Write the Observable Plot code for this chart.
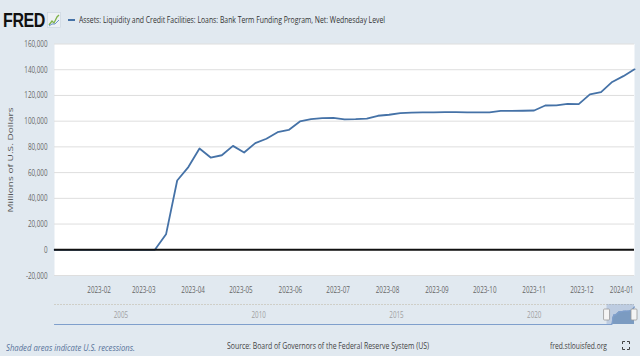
<!DOCTYPE html>
<html><head><meta charset="utf-8">
<script src="https://cdn.jsdelivr.net/npm/d3@7"></script>
<script src="https://cdn.jsdelivr.net/npm/@observablehq/plot@0.6"></script>
<style>
html,body{margin:0;padding:0;}
body{width:640px;height:356px;overflow:hidden;background:#e1e9f0;position:relative;font-family:"Open Sans",sans-serif;}
.abs{position:absolute;white-space:nowrap;line-height:1;}
#main{position:absolute;left:0;top:33px;}
#nav{position:absolute;left:0;top:302px;}
</style></head><body>
<script>
// ---- data ----
const dates = ["2023-01-04","2023-01-11","2023-01-18","2023-01-25","2023-02-01","2023-02-08","2023-02-15","2023-02-22",
"2023-03-01","2023-03-08","2023-03-15","2023-03-22","2023-03-29","2023-04-05","2023-04-12","2023-04-19","2023-04-26",
"2023-05-03","2023-05-10","2023-05-17","2023-05-24","2023-05-31","2023-06-07","2023-06-14","2023-06-21","2023-06-28",
"2023-07-05","2023-07-12","2023-07-19","2023-07-26","2023-08-02","2023-08-09","2023-08-16","2023-08-23","2023-08-30",
"2023-09-06","2023-09-13","2023-09-20","2023-09-27","2023-10-04","2023-10-11","2023-10-18","2023-10-25","2023-11-01",
"2023-11-08","2023-11-15","2023-11-22","2023-11-29","2023-12-06","2023-12-13","2023-12-20","2023-12-27","2024-01-03"];
const values = [0,0,0,0,0,0,0,0,0,0,
12000,53900,64300,78700,71700,73500,80800,75600,82900,86300,91400,93200,99800,101600,102300,102600,
101400,101600,102000,104200,105000,106300,106700,106800,106900,107000,107100,106800,106800,106900,
108000,108000,108100,108300,112200,112300,113500,113300,120800,122600,130500,135000,140300];
// navigator: full history of the series (flat at zero before 2023)
const navDates = ["2002-12-18"];
const navValues = [0];
const yTicks = [-20000,0,20000,40000,60000,80000,100000,120000,140000,160000];
const xTicks = ["2023-02-01","2023-03-01","2023-04-01","2023-05-01","2023-06-01","2023-07-01","2023-08-01",
"2023-09-01","2023-10-01","2023-11-01","2023-12-01","2024-01-01"];
const navYears = ["2005","2010","2015","2020"];
const title = "Assets: Liquidity and Credit Facilities: Loans: Bank Term Funding Program, Net: Wednesday Level";
const yLabel = "Millions of U.S. Dollars";
const note = "Shaded areas indicate U.S. recessions.";
const source = "Source: Board of Governors of the Federal Reserve System (US)";
const site = "fred.stlouisfed.org";

const BLUE = "#4572a7";
const data = dates.map((d, i) => ({date: new Date(d), value: values[i]}));
const navData = navDates.map((d, i) => ({date: new Date(d), value: navValues[i]})).concat(data);
const xT = xTicks.map(d => new Date(d));
const fmtY = d => d3.format(",")(d).replace("\u2212", "-");

const main = Plot.plot({
  width: 640, height: 262,
  marginTop: 10.5, marginBottom: 20, marginLeft: 54, marginRight: 6,
  x: {type: "utc", domain: [new Date(dates[0]), new Date(dates[dates.length - 1])]},
  y: {domain: [yTicks[0], yTicks[yTicks.length - 1]]},
  style: {background: "transparent", fontFamily: "Open Sans", fontSize: "9.5px", color: "#666", overflow: "visible"},
  marks: [
    Plot.frame({fill: "white", stroke: "none"}),
    Plot.gridY(yTicks, {stroke: "#dedede", strokeOpacity: 1, strokeWidth: 1}),
    Plot.lineY(data, {x: "date", y: "value", stroke: BLUE, strokeWidth: 1.8}),
    Plot.ruleY([0], {stroke: "#111", strokeWidth: 2}),
    Plot.axisY(yTicks, {tickSize: 0, tickPadding: 7, tickFormat: fmtY, label: null, fill: "#666"}),
    Plot.axisX(xT.slice(0, -1), {tickSize: 0, tickPadding: 11, tickFormat: "%Y-%m", label: null, fill: "#666"}),
    Plot.axisX(xT.slice(-1), {tickSize: 0, tickPadding: 11, tickFormat: "%Y-%m", label: null, fill: "#666", textAnchor: "end", dx: 2})
  ]
});
main.id = "main";
document.body.appendChild(main);

const nav = Plot.plot({
  width: 640, height: 23,
  marginTop: 2, marginBottom: 1, marginLeft: 54, marginRight: 6,
  x: {type: "utc", domain: [new Date(navDates[0]), new Date(dates[dates.length - 1])], axis: null},
  y: {domain: [0, yTicks[yTicks.length - 1]], axis: null},
  style: {background: "transparent", fontFamily: "Open Sans", fontSize: "9.5px", overflow: "visible"},
  marks: [
    Plot.ruleY([yTicks[yTicks.length - 1]], {stroke: "#cfcfc8", strokeDasharray: "2,1"}),
    Plot.text(navYears, {x: d => new Date(d + "-01-01"), text: d => d, frameAnchor: "middle", textAnchor: "start", dx: 3, fill: "#a0a0a0"}),
    Plot.rect([0], {x1: () => new Date(dates[0]), x2: () => new Date(dates[dates.length - 1]), fill: "#6a8cc0", fillOpacity: 0.3}),
    Plot.areaY(navData, {x: "date", y: "value", fill: BLUE, fillOpacity: 0.55}),
    Plot.lineY(navData, {x: "date", y: "value", stroke: "#7f9fcc", strokeWidth: 1.2}),
    Plot.rect([dates[0], dates[dates.length - 1]], {x1: d => new Date(d), x2: d => new Date(d), insetLeft: -3, insetRight: -3, insetTop: 5, insetBottom: 4, fill: "#f4f4f4", stroke: "#999", strokeWidth: 0.8, rx: 1})
  ]
});
nav.id = "nav";
document.body.appendChild(nav);

// horizontally condensed text (the reference is squeezed sideways)
const K = 0.66;
for (const svg of [main, nav]) {
  svg.querySelectorAll("text").forEach(t => {
    const len = t.getComputedTextLength();
    if (len > 0) { t.setAttribute("textLength", (len * K).toFixed(2)); t.setAttribute("lengthAdjust", "spacingAndGlyphs"); }
  });
}

function put(text, o) {
  const s = document.createElement("span");
  s.className = "abs";
  s.textContent = text;
  s.style.fontSize = o.size + "px";
  s.style.color = o.color || "#333";
  if (o.family) s.style.fontFamily = o.family;
  if (o.weight) s.style.fontWeight = o.weight;
  if (o.italic) s.style.fontStyle = "italic";
  if (o.spacing) s.style.letterSpacing = o.spacing + "px";
  document.body.appendChild(s);
  const r = s.getBoundingClientRect();
  const sx = o.target / r.width;
  s.style.left = o.left + "px";
  s.style.top = (o.cy - r.height / 2) + "px";
  s.style.transformOrigin = "0 50%";
  s.style.transform = `scaleX(${sx})`;
  return s;
}

// header
put("FRED", {left: 3, cy: 20, size: 20.5, weight: 700, family: "Liberation Sans", color: "#111", target: 42, spacing: -0.5});
const icon = document.createElementNS("http://www.w3.org/2000/svg", "svg");
icon.setAttribute("width", 14); icon.setAttribute("height", 16);
icon.style.cssText = "position:absolute;left:47px;top:12px;";
icon.innerHTML = '<rect x="0.5" y="0.5" width="13" height="15" fill="#edf1f5" stroke="#c9d3de" stroke-width="0.6"/>' +
  '<polyline points="2,13 5,9 7,11 10,5 12,3" fill="none" stroke="#7fb24a" stroke-width="1.3"/>' +
  '<polyline points="2,14 5,12 8,12 12,8" fill="none" stroke="#6f96c8" stroke-width="1"/>';
document.body.appendChild(icon);
const sw = document.createElement("div");
sw.style.cssText = `position:absolute;left:68px;top:18.5px;width:7px;height:2px;background:${BLUE};`;
document.body.appendChild(sw);
put(title, {left: 79, cy: 19.5, size: 9.5, color: "#333", target: 306});

// y-axis title (rotated; glyph height squeezed)
const yl = document.createElement("span");
yl.className = "abs";
yl.textContent = yLabel;
yl.style.cssText += "font-size:10px;color:#555;";
document.body.appendChild(yl);
const yr = yl.getBoundingClientRect();
yl.style.left = (10 - yr.width / 2) + "px";
yl.style.top = (159.5 - yr.height / 2) + "px";
yl.style.transform = `rotate(-90deg) scale(${105 / yr.width}, 0.72)`;

// footer
put(note, {left: 6, cy: 347.5, size: 9.5, italic: true, color: "#56729a", target: 129});
put(source, {left: 227, cy: 345.5, size: 9.5, color: "#444", target: 202});
put(site, {left: 550, cy: 345.5, size: 9.5, color: "#444", target: 57});
const fs = document.createElementNS("http://www.w3.org/2000/svg", "svg");
fs.setAttribute("width", 8); fs.setAttribute("height", 9);
fs.style.cssText = "position:absolute;left:622px;top:341px;";
fs.innerHTML = '<path d="M0.5,3V0.5H3M5,0.5H7.5V3M7.5,6V8.5H5M3,8.5H0.5V6" fill="none" stroke="#444" stroke-width="1"/>';
document.body.appendChild(fs);
</script>
</body></html>
